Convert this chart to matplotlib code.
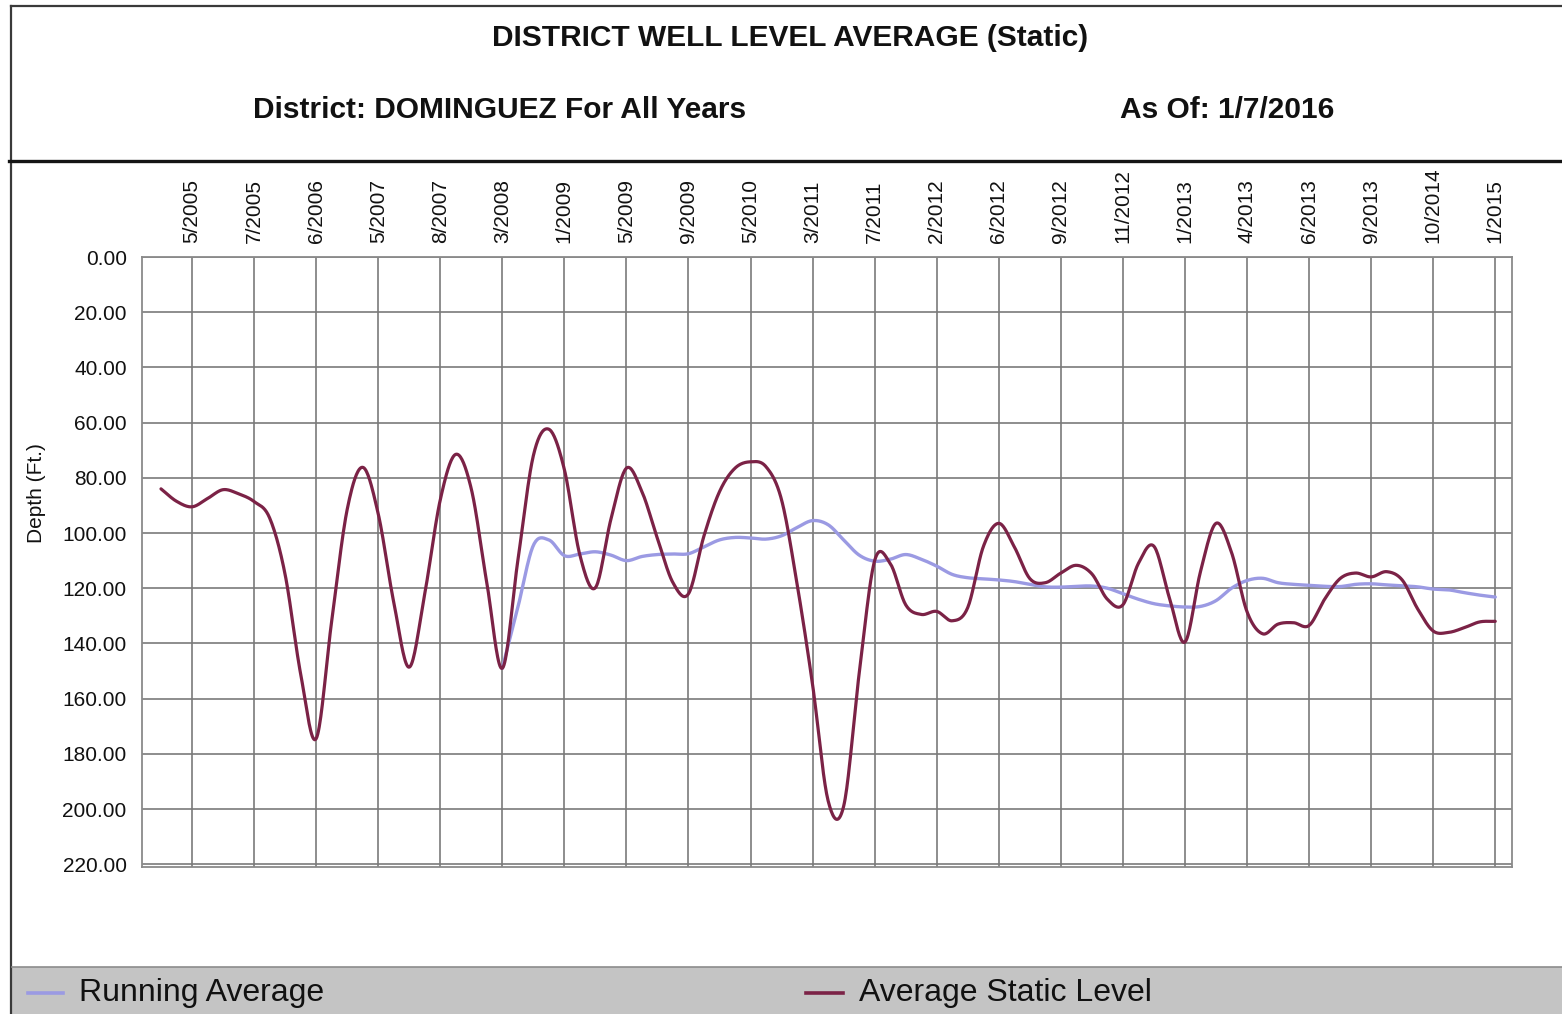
import numpy as np
import matplotlib
matplotlib.use("Agg")
import matplotlib.pyplot as plt
from matplotlib.patches import Rectangle
from matplotlib.lines import Line2D

# ---------------- data ----------------
date_labels = ["5/2005", "7/2005", "6/2006", "5/2007", "8/2007", "3/2008",
               "1/2009", "5/2009", "9/2009", "5/2010", "3/2011", "7/2011",
               "2/2012", "6/2012", "9/2012", "11/2012", "1/2013", "4/2013",
               "6/2013", "9/2013", "10/2014", "1/2015"]

# values read every quarter label-step, starting half a step before the first label
static_level = [84, 88.5, 90.5, 87.5, 84.3, 85.8, 88.6, 94.5, 115, 151,
                174.5, 132, 91.5, 76.2, 93, 125, 148.6, 122, 88, 71.5,
                84, 118, 149, 110, 72, 62.4, 77, 108, 119.8, 95,
                76.5, 85, 102, 118, 122, 101, 85, 76.5, 74.2, 76,
                88, 118.5, 155, 197, 199, 151, 110, 111, 126, 129.5,
                128.4, 131.8, 127, 105, 96.5, 105, 116.5, 118, 114.5, 111.7,
                114.8, 124, 126, 111, 104.8, 123.5, 139.5, 114, 96.5, 107,
                128.5, 136.5, 133, 132.5, 133.5, 124, 116.5, 114.5, 115.9, 114,
                117, 127.5, 135.5, 136, 134.3, 132.2, 132]

running_avg = [np.nan] * 22 + [
    149, 127, 104.5, 102.5, 108.2, 107.6, 106.8, 108, 110, 108.5,
    107.8, 107.6, 107.5, 105, 102.5, 101.6, 101.8, 102.2, 101, 98,
    95.5, 97, 102.5, 108, 110.2, 109.5, 107.8, 109.5, 112, 115,
    116.2, 116.6, 117, 117.6, 118.6, 119.5, 119.6, 119.3, 119.2, 120,
    122, 124, 125.6, 126.4, 126.8, 126.6, 124.5, 120, 117.2, 116.4,
    118, 118.6, 118.9, 119.3, 119.4, 118.6, 118.4, 118.8, 119.1, 119.5,
    120.3, 120.6, 121.6, 122.5, 123.2]

y_ticks = list(range(0, 221, 20))

# ---------------- helpers ----------------
def catmull_rom(x, y, n=20):
    x = np.asarray(x, float)
    y = np.asarray(y, float)
    ok = ~np.isnan(y)
    x, y = x[ok], y[ok]
    P = np.concatenate([[2 * y[0] - y[1]], y, [2 * y[-1] - y[-2]]])
    t = np.linspace(0, 1, n, endpoint=False)
    xs, ys = [], []
    for i in range(1, len(P) - 2):
        p0, p1, p2, p3 = P[i - 1], P[i], P[i + 1], P[i + 2]
        seg = 0.5 * (2 * p1 + (-p0 + p2) * t + (2 * p0 - 5 * p1 + 4 * p2 - p3) * t ** 2
                     + (-p0 + 3 * p1 - 3 * p2 + p3) * t ** 3)
        ys.append(seg)
        xs.append(x[i - 1] + (x[i] - x[i - 1]) * t)
    xs.append([x[-1]])
    ys.append([y[-1]])
    return np.concatenate(xs), np.concatenate(ys)

W, H = 1562, 1014
def fx(px):
    return px / W
def fy(py):
    return 1 - py / H

FONT = "Liberation Sans"
plt.rcParams["font.family"] = [FONT, "DejaVu Sans"]

fig = plt.figure(figsize=(W / 100, H / 100), dpi=100)
fig.patch.set_facecolor("white")

# plot area
left, right, top, bottom = 142, 1512, 257, 867
ax = fig.add_axes([fx(left), fy(bottom), (right - left) / W, (bottom - top) / H])

xpos = -0.5 + 0.25 * np.arange(len(static_level))

rx, ry = catmull_rom(xpos, running_avg)
sx, sy = catmull_rom(xpos, static_level)
ax.plot(rx, ry, color="#9b9ae3", lw=2.4, solid_capstyle="round", zorder=3)
ax.plot(sx, sy, color="#7b2246", lw=2.3, solid_capstyle="round", zorder=4)

ax.set_xlim(-0.806, 21.27)
ax.set_ylim(221, 0)

ax.set_xticks(range(len(date_labels)))
ax.set_xticklabels(date_labels, rotation=90, fontsize=15, va="bottom")
ax.xaxis.tick_top()
ax.set_yticks(y_ticks)
ax.set_yticklabels([f"{v:.2f}" for v in y_ticks], fontsize=15)
ax.tick_params(axis="x", length=0, pad=10, colors="#111111")
ax.tick_params(axis="y", length=0, pad=11, colors="#111111")

ax.grid(True, color="#7a7a7a", lw=1.2)
ax.set_axisbelow(True)
for s in ax.spines.values():
    s.set_color("#8a8a8a")
    s.set_linewidth(1.3)

fig.text(fx(36), fy(493), "Depth (Ft.)", rotation=90, ha="center", va="center",
         fontsize=15, color="#111111")

# header
fig.text(fx(790), fy(38), "DISTRICT WELL LEVEL AVERAGE (Static)", ha="center",
         va="center", fontsize=21.5, fontweight="bold", color="#111111")
fig.text(fx(253), fy(110), "District: DOMINGUEZ For All Years", ha="left",
         va="center", fontsize=21.5, fontweight="bold", color="#111111")
fig.text(fx(1120), fy(110), "As Of: 1/7/2016", ha="left",
         va="center", fontsize=21.5, fontweight="bold", color="#111111")

# frame lines
fig.add_artist(Line2D([fx(11), fx(1562)], [fy(6), fy(6)], color="#3a3a3a", lw=1.6))
fig.add_artist(Line2D([fx(11), fx(11)], [fy(6), fy(1014)], color="#3a3a3a", lw=1.6))
fig.add_artist(Line2D([fx(9), fx(1562)], [fy(161), fy(161)], color="#151515", lw=2.4))

# legend bar
fig.add_artist(Rectangle((fx(12), 0), 1 - fx(12), fy(967), transform=fig.transFigure,
                         facecolor="#c4c4c4", edgecolor="none", zorder=1))
fig.add_artist(Line2D([fx(12), fx(1562)], [fy(967), fy(967)], color="#8c8c8c", lw=1.2))
fig.add_artist(Line2D([fx(28), fx(63)], [fy(993), fy(993)], color="#9b9ae3", lw=2.6))
fig.text(fx(79), fy(993), "Running Average", ha="left", va="center",
         fontsize=23, color="#111111")
fig.add_artist(Line2D([fx(806), fx(843)], [fy(993), fy(993)], color="#7b2246", lw=2.6))
fig.text(fx(859), fy(993), "Average Static Level", ha="left", va="center",
         fontsize=23, color="#111111")

fig.savefig("out.png", dpi=100, facecolor="white")
